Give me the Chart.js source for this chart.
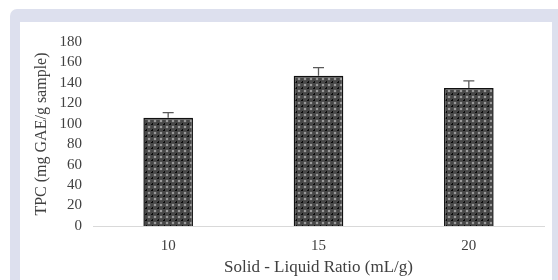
<!DOCTYPE html>
<html lang="en">
<head>
    <meta charset="UTF-8">
    <title>TPC vs Solid - Liquid Ratio</title>
    <script src="https://cdn.jsdelivr.net/npm/chart.js@4.4.1/dist/chart.umd.min.js"></script>
    <style>
        * { margin: 0; padding: 0; box-sizing: border-box; }
        body {
            width: 558px;
            height: 280px;
            background: #ffffff;
            overflow: hidden;
            position: relative;
        }
        .frame {
            position: absolute;
            left: 10px;
            top: 9px;
            right: 0;
            bottom: 0;
            background: #dde0ee;
            border-top-left-radius: 7px;
        }
        .panel {
            position: absolute;
            left: 20px;
            top: 22px;
            width: 532px;
            height: 258px;
            background: #ffffff;
        }
    </style>
</head>
<body>
    <div class="frame"></div>
    <div class="panel">
        <canvas id="tpcChart" width="532" height="258"></canvas>
    </div>

    <script>
        // data
        const ratios = ['10', '15', '20'];
        const tpcValues = [106, 147, 135];
        const tpcErrors = [5, 8, 7];
        const yTicks = [0, 20, 40, 60, 80, 100, 120, 140, 160, 180];

        // dotted dark fill like the original excel pattern
        function makePattern() {
            const c = document.createElement('canvas');
            c.width = 6;
            c.height = 6;
            const p = c.getContext('2d');
            p.fillStyle = '#474747';
            p.fillRect(0, 0, 6, 6);
            p.fillStyle = '#9a9a9a';
            p.beginPath();
            p.arc(3, 3, 1.3, 0, Math.PI * 2);
            p.fill();
            p.fillStyle = '#0a0a0a';
            p.fillRect(0, 0, 1, 1);
            p.fillRect(5, 0, 2, 1);
            p.fillRect(0, 5, 1, 2);
            return p.createPattern(c, 'repeat');
        }

        const errorBars = {
            id: 'errorBars',
            afterDatasetsDraw(chart) {
                const ctx = chart.ctx;
                const yScale = chart.scales.y;
                const meta = chart.getDatasetMeta(0);
                ctx.save();
                ctx.strokeStyle = '#5a5a5a';
                ctx.lineWidth = 1.3;
                meta.data.forEach((bar, i) => {
                    const top = yScale.getPixelForValue(tpcValues[i] + tpcErrors[i]);
                    ctx.beginPath();
                    ctx.moveTo(bar.x, bar.y);
                    ctx.lineTo(bar.x, top);
                    ctx.moveTo(bar.x - 5.5, top);
                    ctx.lineTo(bar.x + 5.5, top);
                    ctx.stroke();
                });
                ctx.restore();
            }
        };

        const ctx = document.getElementById('tpcChart').getContext('2d');
        new Chart(ctx, {
            type: 'bar',
            data: {
                labels: ratios,
                datasets: [{
                    data: tpcValues,
                    backgroundColor: makePattern(),
                    borderColor: '#111111',
                    borderWidth: 1.5,
                    categoryPercentage: 1,
                    barPercentage: 0.33
                }]
            },
            options: {
                responsive: false,
                animation: false,
                layout: { padding: { top: 14, right: 8, left: 0, bottom: 0 } },
                plugins: {
                    legend: { display: false },
                    tooltip: { enabled: false }
                },
                scales: {
                    x: {
                        grid: { display: false, drawTicks: false },
                        border: { display: true, color: '#d9d9d9', width: 1 },
                        ticks: {
                            color: '#404040',
                            padding: 11,
                            font: { family: 'Liberation Serif', size: 15 }
                        },
                        title: {
                            display: true,
                            text: 'Solid - Liquid Ratio (mL/g)',
                            color: '#404040',
                            font: { family: 'Liberation Serif', size: 17 },
                            padding: { top: 0, bottom: 2 }
                        },
                        afterFit(scale) { scale.height = 54; }
                    },
                    y: {
                        min: 0,
                        max: 180,
                        grid: { display: false, drawTicks: false },
                        border: { display: false },
                        afterBuildTicks(scale) {
                            scale.ticks = yTicks.map(v => ({ value: v }));
                        },
                        ticks: {
                            autoSkip: false,
                            color: '#404040',
                            padding: 11,
                            font: { family: 'Liberation Serif', size: 15 }
                        },
                        title: {
                            display: true,
                            text: 'TPC (mg GAE/g sample)',
                            color: '#404040',
                            font: { family: 'Liberation Serif', size: 16 },
                            padding: { top: 12, bottom: 2 }
                        },
                        afterFit(scale) { scale.width = 73; }
                    }
                }
            },
            plugins: [errorBars]
        });
    </script>
</body>
</html>
